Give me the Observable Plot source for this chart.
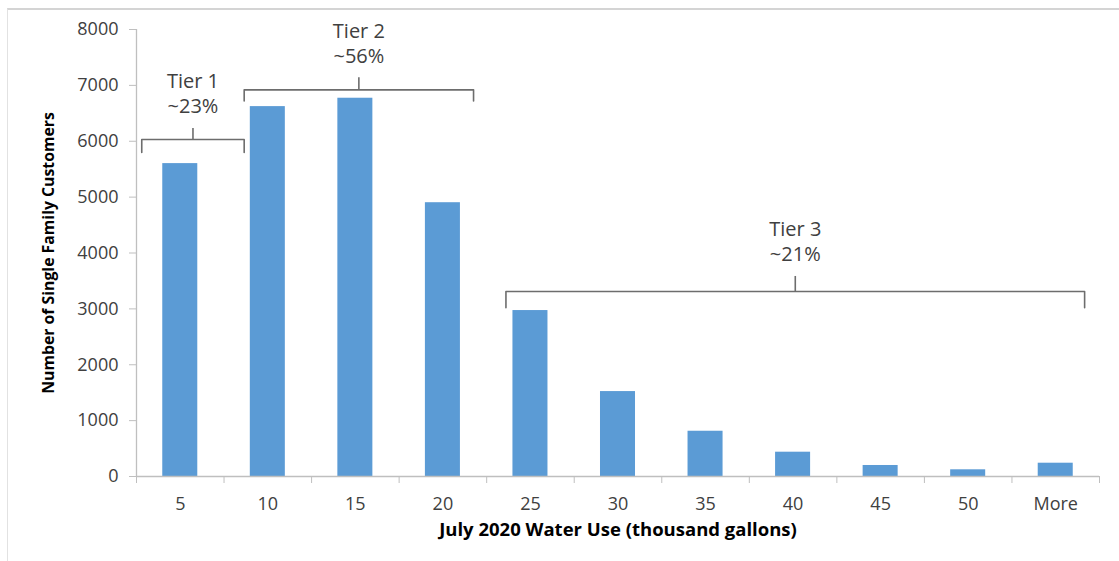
<!DOCTYPE html>
<html><head><meta charset="utf-8">
<script src="https://cdn.jsdelivr.net/npm/d3@7"></script>
<script src="https://cdn.jsdelivr.net/npm/@observablehq/plot@0.6"></script>
<style>
html,body{margin:0;padding:0;background:#fff;}
#frame{position:absolute;left:7px;top:8px;width:1112px;height:553px;border-top:2px solid #d4d4d4;border-left:1px solid #e2e2e2;box-sizing:border-box;}
#chart{position:absolute;left:0;top:0;}
</style></head><body>
<div id="frame"></div><div id="chart"></div>
<script>
// ---- data ----
const categories = ["5","10","15","20","25","30","35","40","45","50","More"];
const customers  = [5600, 6620, 6770, 4900, 2970, 1520, 810, 435, 197, 120, 238];
const yTicks = [0,1000,2000,3000,4000,5000,6000,7000,8000];
const tierNames  = ["Tier 1","Tier 2","Tier 3"];
const tierShares = ["~23%","~56%","~21%"];
// bracket spans, in category-index units, and bracket levels in customers
const tierStart = [0.06, 1.23, 4.22];
const tierEnd   = [1.23, 3.85, 10.83];
const tierLevel = [6030, 6920, 3310];
const tierDrop  = [230, 200, 290];
const tierRise  = [200, 215, 270];
const xTitle = "July 2020 Water Use (thousand gallons)";
const yTitle = "Number of Single Family Customers";

const bars = categories.map((c, i) => ({i, category: c, value: customers[i]}));
const tiers = tierNames.map((n, k) => ({name: n, share: tierShares[k], x1: tierStart[k], x2: tierEnd[k], level: tierLevel[k], drop: tierDrop[k], rise: tierRise[k], mid: (tierStart[k] + tierEnd[k]) / 2}));
const bracketPts = tiers.flatMap(t => [
  {tier: t.name, x: t.x1, y: t.level - t.drop},
  {tier: t.name, x: t.x1, y: t.level},
  {tier: t.name, x: t.x2, y: t.level},
  {tier: t.name, x: t.x2, y: t.level - t.drop}
]);

const axisGray = "#bfbfbf";
const textGray = "#404040";
const font = "'Open Sans', sans-serif";

const chart = Plot.plot({
  width: 1119, height: 561,
  marginLeft: 136, marginRight: 20, marginTop: 29, marginBottom: 85,
  style: {fontFamily: font, background: "transparent", overflow: "visible"},
  x: {type: "linear", domain: [0, categories.length], axis: null},
  y: {domain: [0, 8000], axis: null},
  marks: [
    Plot.rectY(bars, {x1: d => d.i + 0.3, x2: d => d.i + 0.7, y: "value", fill: "#5B9BD5"}),
    Plot.ruleX([0], {y1: 0, y2: 8000, stroke: axisGray, strokeWidth: 1.3}),
    Plot.ruleY([0], {x1: 0, x2: categories.length, stroke: axisGray, strokeWidth: 1.3}),
    Plot.axisY({ticks: yTicks, tickSize: 7, tickPadding: 11, stroke: axisGray, fill: textGray, fontSize: 18, label: null, tickFormat: d => String(d)}),
    Plot.axisX({ticks: d3.range(0, categories.length + 1), tickSize: 7, stroke: axisGray, tickFormat: () => "", label: null}),
    Plot.axisX({ticks: d3.range(categories.length).map(i => i + 0.5), tickSize: 0, tickPadding: 21, fill: textGray, fontSize: 18, label: null, tickFormat: v => categories[Math.floor(v)]}),
    Plot.text([xTitle], {frameAnchor: "bottom", dy: 59, fontWeight: "bold", fontSize: 18.5, fill: "#000"}),
    Plot.text([yTitle], {frameAnchor: "left", dx: -88, rotate: -90, textAnchor: "middle", fontWeight: "bold", fontSize: 15.8, fill: "#000"}),
    Plot.line(bracketPts, {x: "x", y: "y", z: "tier", stroke: "#6d6d6d", strokeWidth: 1.6}),
    Plot.ruleX(tiers, {x: "mid", y1: "level", y2: d => d.level + d.rise, stroke: "#6d6d6d", strokeWidth: 1.6}),
    Plot.text(tiers, {x: "mid", y: d => d.level + d.rise, text: d => d.name + "\n" + d.share, lineAnchor: "bottom", dy: -15, fontSize: 20, lineHeight: 1.25, fill: textGray})
  ]
});
document.getElementById("chart").appendChild(chart);
</script>
</body></html>
